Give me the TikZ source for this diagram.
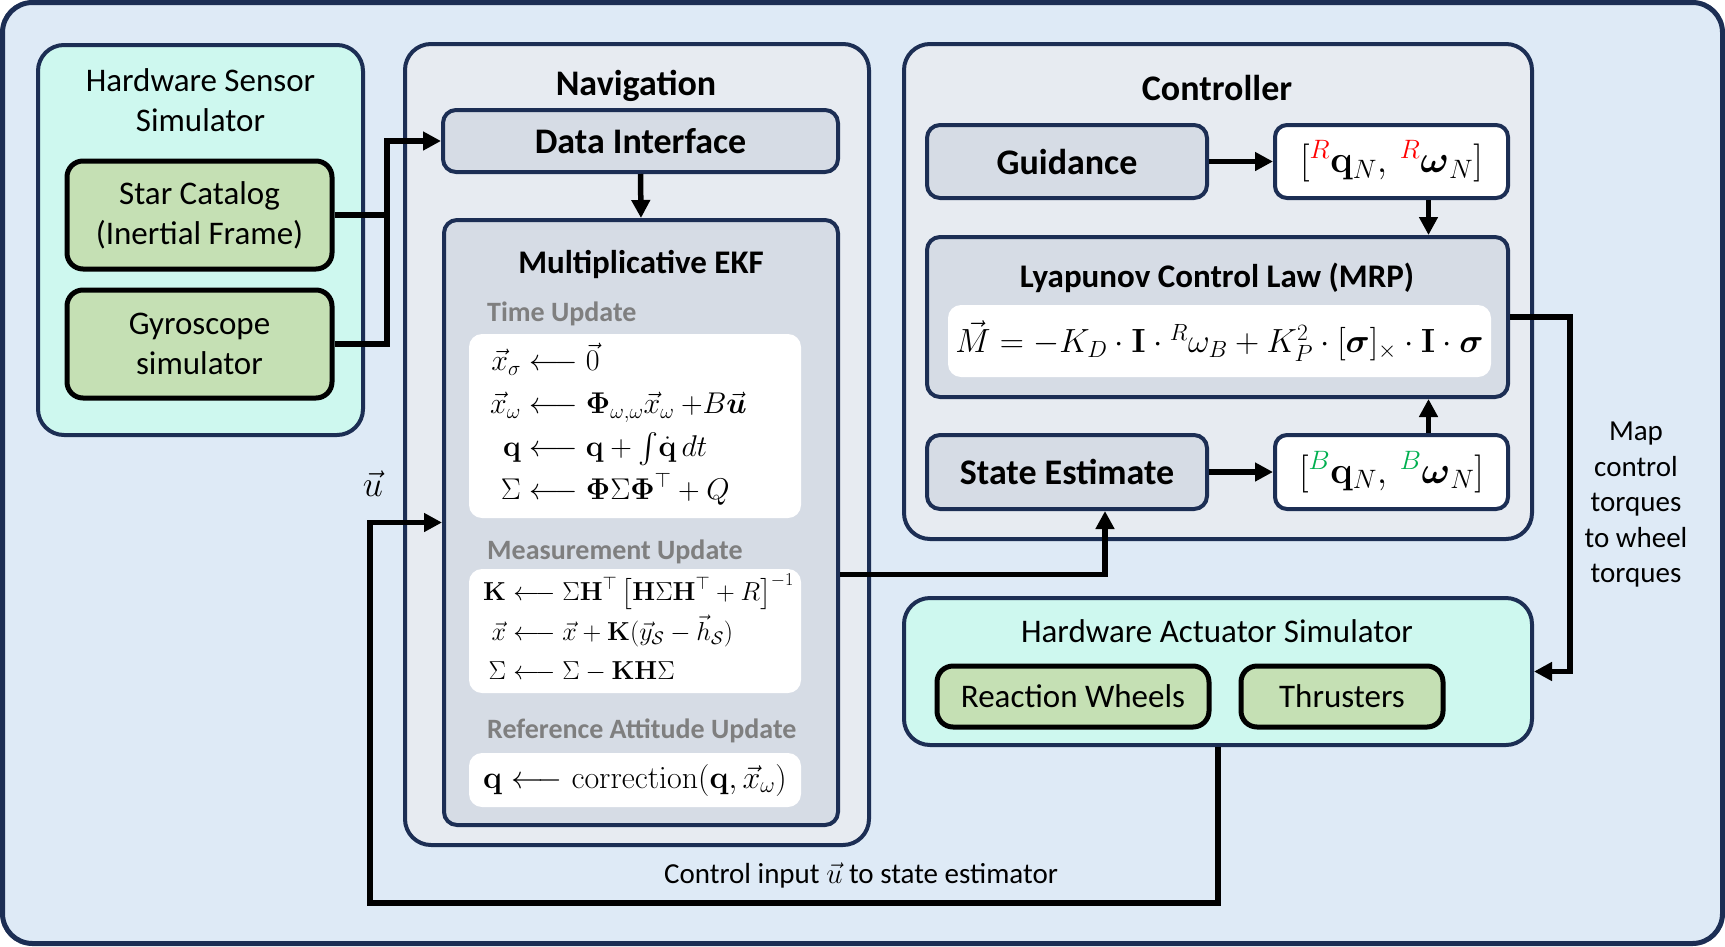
\RequirePackage{fix-cm}
\documentclass[tikz,border=0pt]{standalone}
\usepackage{amsmath}
\usepackage{amssymb}
\usepackage[no-math]{fontspec}
\setmainfont{Carlito}
\usepackage{xcolor}
\usetikzlibrary{positioning,arrows.meta}

\definecolor{navy}{HTML}{1C2E54}
\definecolor{bgblue}{HTML}{DEEAF6}
\definecolor{mint}{HTML}{CEF8EF}
\definecolor{panelgray}{HTML}{E7EBF1}
\definecolor{innergray}{HTML}{D6DCE5}
\definecolor{leaf}{HTML}{C5E0B4}
\definecolor{subgray}{HTML}{7F7F7F}
\definecolor{bgreen}{HTML}{00B050}

\begin{document}
\begin{tikzpicture}[
    x=1pt, y=-1pt,
    every node/.style={inner sep=0pt, font=\fontsize{33}{40}\selectfont},
    outerframe/.style={draw=navy, line width=5pt, rounded corners=30pt, fill=bgblue},
    panel/.style={draw=navy, line width=4pt, rounded corners=26pt, fill=panelgray},
    simbox/.style={draw=navy, line width=4pt, rounded corners=26pt, fill=mint},
    block/.style={draw=navy, line width=4pt, rounded corners=13pt, fill=innergray, font=\fontsize{36}{40}\selectfont\bfseries},
    unit/.style={draw=black, line width=5pt, rounded corners=16pt, fill=leaf, align=center},
    sheet/.style={fill=white, rounded corners=13pt},
    vecbox/.style={draw=navy, line width=4pt, rounded corners=12pt, fill=white, font=\fontsize{38}{40}\selectfont},
    title/.style={anchor=base, font=\fontsize{36}{40}\selectfont\bfseries},
    subtitle/.style={anchor=base, font=\fontsize{33}{40}\selectfont\bfseries},
    stage/.style={anchor=base west, text=subgray, font=\fontsize{28}{32}\selectfont\bfseries},
    flow/.style={line width=5.5pt, -{Triangle[length=18pt,width=18pt]}},
    wire/.style={line width=5.5pt}
]
\useasboundingbox (0,0) rectangle (1725,946);

% outer frame
\draw[outerframe] (2.5,2.5) rectangle (1722.5,943.5);

% sensor simulator
\node[simbox, minimum width=325pt, minimum height=390pt] (sensors) at (200.5,240) {};
\node[align=center] (sensorlabel) at (200.5,100) {Hardware Sensor\\Simulator};
\node[unit, minimum width=265pt, minimum height=108pt] (catalog) at (199.5,215) {Star Catalog\\(Inertial Frame)};
\node[unit, minimum width=265pt, minimum height=108pt] (gyro) at (199.5,344) {Gyroscope\\simulator};

% navigation
\node[panel, minimum width=464pt, minimum height=801pt] (nav) at (637,444.5) {};
\node[title] (navlabel) at (636,95) {Navigation};
\node[block, minimum width=395pt, minimum height=62pt] (datain) at (640.5,141) {Data Interface};
\node[block, minimum width=394pt, minimum height=605pt] (ekf) at (641,522.5) {};
\node[subtitle] (ekflabel) at (641,273) {Multiplicative EKF};

\node[stage] (timelabel) at (487,321) {Time Update};
\node[sheet, minimum width=332pt, minimum height=184pt] (timesheet) at (635,426) {};
\node[anchor=west, font=\fontsize{30}{40}\selectfont] (timeeq) at (490,427) {$\begin{aligned}
  \vec{x}_\sigma &\longleftarrow \vec{0}\\
  \vec{x}_\omega &\longleftarrow \mathbf{\Phi}_{\omega,\omega}\vec{x}_\omega\:{+}B\vec{\boldsymbol{u}}\\
  \mathbf{q} &\longleftarrow \mathbf{q}+{\textstyle\int}\dot{\mathbf{q}}\,dt\\
  \Sigma &\longleftarrow \mathbf{\Phi}\Sigma\mathbf{\Phi}^\top+Q
\end{aligned}$};

\node[stage] (measlabel) at (487,559) {Measurement Update};
\node[sheet, minimum width=332pt, minimum height=124pt] (meassheet) at (635,631) {};
\node[anchor=west, font=\fontsize{26}{36}\selectfont] (measeq) at (483,632) {$\begin{aligned}
  \mathbf{K} &\longleftarrow \Sigma\mathbf{H}^\top\,\bigl[\mathbf{H}\Sigma\mathbf{H}^\top+R\bigr]^{-1}\\
  \vec{x} &\longleftarrow \vec{x}+\mathbf{K}(\vec{y}_{\mathcal{S}}-\vec{h}_{\mathcal{S}})\\
  \Sigma &\longleftarrow \Sigma-\mathbf{K}\mathbf{H}\Sigma
\end{aligned}$};

\node[stage] (reflabel) at (487,738) {Reference Attitude Update};
\node[sheet, minimum width=332pt, minimum height=54pt] (refsheet) at (635,780) {};
\node[anchor=west, font=\fontsize{32}{40}\selectfont] (refeq) at (483,780) {$\mathbf{q}\longleftarrow\mathrm{correction}(\mathbf{q},\vec{x}_\omega)$};

% controller
\node[panel, minimum width=628pt, minimum height=495pt] (ctrl) at (1218,291.5) {};
\node[title] (ctrllabel) at (1217,100) {Controller};
\node[block, minimum width=280pt, minimum height=73pt] (guidance) at (1067,161.5) {Guidance};
\node[vecbox, minimum width=233pt, minimum height=73pt] (refstate) at (1391.5,161.5) {$[{}^{\color{red}R}\mathbf{q}_N,\,{}^{\color{red}R}\boldsymbol{\omega}_N]$};
\node[block, minimum width=581pt, minimum height=160pt] (lyap) at (1217.5,317) {};
\node[subtitle] (lyaplabel) at (1217,287) {Lyapunov Control Law (MRP)};
\node[sheet, minimum width=543pt, minimum height=72pt, font=\fontsize{33.5}{40}\selectfont] (lyapeq) at (1219.5,341) {$\vec{M}=-K_D\cdot\mathbf{I}\cdot{}^R\omega_B+K_P^2\cdot[\boldsymbol{\sigma}]_\times\cdot\mathbf{I}\cdot\boldsymbol{\sigma}$};
\node[block, minimum width=280pt, minimum height=74pt] (stateest) at (1067,472) {State Estimate};
\node[vecbox, minimum width=233pt, minimum height=74pt] (bodystate) at (1391.5,472) {$[{}^{\color{bgreen}B}\mathbf{q}_N,\,{}^{\color{bgreen}B}\boldsymbol{\omega}_N]$};

% actuator simulator
\node[simbox, minimum width=628pt, minimum height=147pt] (act) at (1218,671.5) {};
\node[anchor=base] (actlabel) at (1217,642) {Hardware Actuator Simulator};
\node[unit, minimum width=272pt, minimum height=61pt] (wheels) at (1073,696.5) {Reaction Wheels};
\node[unit, minimum width=202pt, minimum height=61pt] (thrusters) at (1342,696.5) {Thrusters};

% free labels
\node[align=center, font=\fontsize{29}{35.5}\selectfont] (maplabel) at (1636,505) {Map\\control\\torques\\to wheel\\torques};
\node[anchor=base, font=\fontsize{29}{35}\selectfont] (looplabel) at (861,883) {Control input $\vec{u}$ to state estimator};
\node[anchor=base, font=\fontsize{36}{40}\selectfont] (ulabel) at (373,496) {$\vec{u}$};

% connectors
\coordinate (sensorbus) at (387,141);
\coordinate (loopturn) at (370,903);
\draw[wire] (catalog.east) -| (sensorbus);
\draw[flow] (gyro.east) -| (sensorbus) -- (datain.west);
\draw[flow] (datain.south) -- (ekf.north);
\draw[flow] (guidance) -- (refstate);
\draw[flow] ([xshift=37pt]refstate.south) -- ([xshift=37pt]refstate.south |- lyap.north);
\draw[flow] (stateest) -- (bodystate);
\draw[flow] ([xshift=37pt]bodystate.north) -- ([xshift=37pt]bodystate.north |- lyap.south);
\draw[flow] ([yshift=-52pt]ekf.east) -| ([xshift=38pt]stateest.south);
\draw[flow] (lyap.east) -- ++(60,0) |- (act.east);
\draw[flow] (act.south) |- (loopturn) |- (ekf.west);

\end{tikzpicture}
\end{document}
